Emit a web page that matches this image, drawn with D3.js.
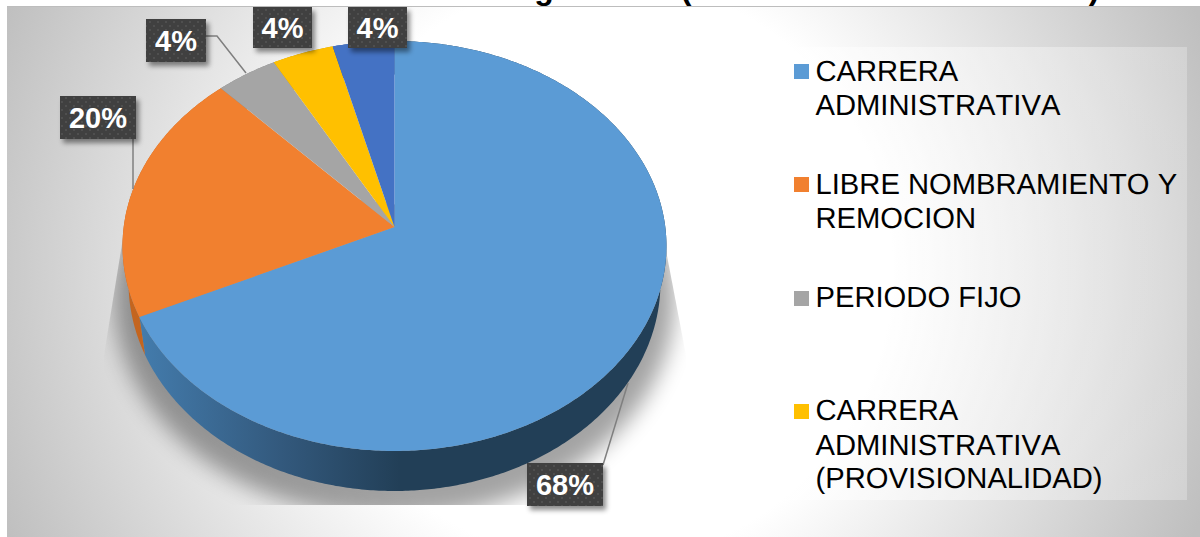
<!DOCTYPE html>
<html lang="es">
<head>
<meta charset="utf-8">
<title>Pie chart</title>
<script src="https://cdn.jsdelivr.net/npm/d3@7/dist/d3.min.js"></script>
<style>
html,body{margin:0;padding:0;background:#fff;overflow:hidden}
svg{display:block}
text{font-family:"Liberation Sans",Arial,sans-serif}
.legend-text{font-kerning:none;text-rendering:geometricPrecision}
</style>
</head>
<body>
<div id="chart"></div>
<script>
// ---- data ----
const sliceValues = [68, 20, 4, 4, 4];
const sliceLabels = ["68%", "20%", "4%", "4%", "4%"];
const sliceColors = ["#5b9bd5", "#f1802f", "#a5a5a5", "#ffc000", "#4472c4"];
const legendNames = [
  ["CARRERA", "ADMINISTRATIVA"],
  ["LIBRE NOMBRAMIENTO Y", "REMOCION"],
  ["PERIODO FIJO"],
  ["CARRERA", "ADMINISTRATIVA", "(PROVISIONALIDAD)"]
];
const titleFragments = ["g", "(", ")"];

// ---- layout ----
const W = 1200, H = 537;
const titleX = [544, 686, 1094];
const legendBaselines = [[81, 115], [194, 228], [307], [420, 455, 488]];
const legendMarkerY = [64, 177, 291, 404];
const labelBoxes = [
  {x: 527, y: 463, w: 76, h: 43},
  {x: 60, y: 96, w: 76, h: 43},
  {x: 146, y: 19, w: 60, h: 43},
  {x: 253, y: 7, w: 59, h: 41},
  {x: 348, y: 7, w: 59, h: 41}
];
const leaders = [
  [[603, 465], [628, 383]],
  [[133, 139], [133, 189]],
  [[206, 36], [217, 36], [246, 73]]
];

const svg = d3.select("#chart").append("svg").attr("width", W).attr("height", H);
const defs = svg.append("defs");

const bg = defs.append("radialGradient").attr("id", "bg").attr("gradientUnits", "userSpaceOnUse")
  .attr("cx", 600).attr("cy", 270).attr("r", 650);
bg.append("stop").attr("offset", 0.45).attr("stop-color", "#fff");
bg.append("stop").attr("offset", 1).attr("stop-color", "#bfbfbf");

const wall = defs.append("linearGradient").attr("id", "wallBlue").attr("gradientUnits", "userSpaceOnUse")
  .attr("x1", 135).attr("x2", 400).attr("y1", 0).attr("y2", 0);
wall.append("stop").attr("offset", 0).attr("stop-color", "#447dae");
wall.append("stop").attr("offset", 0.55).attr("stop-color", "#33597d");
wall.append("stop").attr("offset", 1).attr("stop-color", "#223f57");

const leg = defs.append("linearGradient").attr("id", "legendFill");
leg.append("stop").attr("offset", 0).attr("stop-color", "#fff").attr("stop-opacity", 0.55);
leg.append("stop").attr("offset", 1).attr("stop-color", "#fff").attr("stop-opacity", 0.25);

const dots = defs.append("pattern").attr("id", "dots").attr("patternUnits", "userSpaceOnUse")
  .attr("width", 8).attr("height", 8);
dots.append("rect").attr("width", 8).attr("height", 8).attr("fill", "#404040");
dots.append("rect").attr("x", 1).attr("y", 1).attr("width", 2).attr("height", 2).attr("fill", "#505050");
dots.append("rect").attr("x", 5).attr("y", 5).attr("width", 2).attr("height", 2).attr("fill", "#505050");

defs.append("filter").attr("id", "blurShadow").attr("x", "-20%").attr("y", "-20%").attr("width", "140%").attr("height", "140%")
  .append("feGaussianBlur").attr("stdDeviation", 11);
const ds = defs.append("filter").attr("id", "boxShadow").attr("x", "-30%").attr("y", "-30%").attr("width", "160%").attr("height", "170%");
ds.append("feDropShadow").attr("dx", 3).attr("dy", 4).attr("stdDeviation", 2.5)
  .attr("flood-color", "#000").attr("flood-opacity", 0.45);

defs.append("clipPath").attr("id", "shadowClip").append("polygon")
  .attr("points", "134,170 104,355 104,505 686,505 686,355 664,240");

// background panel
svg.append("rect").attr("x", 7).attr("y", 6).attr("width", W - 7).attr("height", H - 6).attr("fill", "url(#bg)");
svg.append("line").attr("x1", 7).attr("x2", W).attr("y1", 6.5).attr("y2", 6.5).attr("stroke", "#bdbdbd");

// title remnants: the reference's title is cut off by the top edge
svg.selectAll("text.title").data(titleFragments).join("text").attr("class", "title")
  .attr("x", (d, i) => titleX[i]).attr("y", -1).attr("text-anchor", "middle")
  .attr("font-size", 32).attr("font-weight", "bold").attr("fill", "#000").text(d => d);

// perspective projection of a unit circle onto the tilted pie
const persp = -0.0927;
const topRing = {cx: 394.5, cy: 227, kx: 270.8, ky: 203.2};
const lowRing = {cx: 394.5, cy: 263.4, kx: 264.8, ky: 206.5};
const project = (ring, a) => {
  const u = Math.sin(a), v = -Math.cos(a), d = 1 + persp * v;
  return [ring.cx + ring.kx * u / d, ring.cy + ring.ky * v / d];
};
const arcPoints = (ring, a0, a1) => {
  const n = Math.max(2, Math.ceil((a1 - a0) / 0.01));
  return d3.range(n + 1).map(i => project(ring, a0 + (a1 - a0) * i / n));
};

const pie = d3.pie().sort(null).startAngle(0).endAngle(2 * Math.PI);
const arcs = pie(sliceValues);
const line = d3.line();
const closed = pts => line(pts) + "Z";

// soft shadow under the pie
const shadowRing = {cx: 394.5, cy: 278, kx: 279, ky: 218};
svg.append("g").attr("clip-path", "url(#shadowClip)")
  .append("path")
  .attr("d", closed(arcPoints(shadowRing, 0, 2 * Math.PI)))
  .attr("fill", "#000").attr("opacity", 0.36).attr("filter", "url(#blurShadow)");

// side walls
const wallColors = ["url(#wallBlue)", "#c4651f", "#848484", "#c99800", "#365a9c"];
svg.append("g").selectAll("path").data(arcs).join("path")
  .attr("d", d => closed(arcPoints(topRing, d.startAngle, d.endAngle)
    .concat(arcPoints(lowRing, d.startAngle, d.endAngle).reverse())))
  .attr("fill", (d, i) => wallColors[i]);

// top surface
svg.append("g").selectAll("path").data(arcs).join("path")
  .attr("d", d => closed([[topRing.cx, topRing.cy]].concat(arcPoints(topRing, d.startAngle, d.endAngle))))
  .attr("fill", (d, i) => sliceColors[i]);

// leader lines
svg.append("g").selectAll("path").data(leaders).join("path")
  .attr("d", d => line(d)).attr("fill", "none").attr("stroke", "#7f7f7f").attr("stroke-width", 1.5);

// data labels
const lab = svg.append("g").selectAll("g").data(sliceLabels).join("g");
lab.append("rect")
  .attr("x", (d, i) => labelBoxes[i].x).attr("y", (d, i) => labelBoxes[i].y)
  .attr("width", (d, i) => labelBoxes[i].w).attr("height", (d, i) => labelBoxes[i].h)
  .attr("fill", "url(#dots)").attr("filter", "url(#boxShadow)");
lab.append("text")
  .attr("x", (d, i) => labelBoxes[i].x + labelBoxes[i].w / 2)
  .attr("y", (d, i) => labelBoxes[i].y + labelBoxes[i].h / 2 + 10.5)
  .attr("text-anchor", "middle").attr("font-size", 29).attr("font-weight", "bold")
  .attr("fill", "#fff").text(d => d);

// legend
svg.append("rect").attr("x", 780).attr("y", 47).attr("width", 407).attr("height", 453).attr("fill", "url(#legendFill)");
const lg = svg.append("g").selectAll("g").data(legendNames).join("g");
lg.append("rect").attr("x", 794).attr("y", (d, i) => legendMarkerY[i]).attr("width", 15).attr("height", 15)
  .attr("fill", (d, i) => sliceColors[i]);
lg.each(function (names, i) {
  d3.select(this).selectAll("text").data(names).join("text")
    .attr("class", "legend-text")
    .attr("x", 815.5).attr("y", (d, j) => legendBaselines[i][j])
    .attr("font-size", 29.2).attr("fill", "#000").text(d => d);
});
</script>
</body>
</html>
